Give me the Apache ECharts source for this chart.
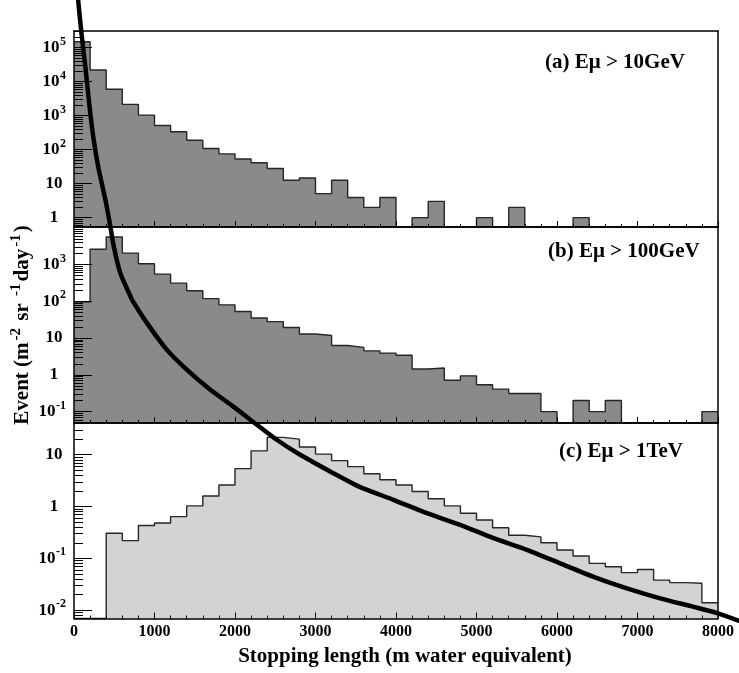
<!DOCTYPE html>
<html>
<head>
<meta charset="utf-8">
<title>Stopping length of muons</title>
<script src="https://cdn.jsdelivr.net/npm/echarts@6/dist/echarts.min.js"></script>
<style>
  html, body { margin: 0; padding: 0; background: #ffffff; }
  #chart { width: 739px; height: 673px; }
</style>
</head>
<body>
<div id="chart"></div>
<script>
// Histogram bins: left edge of every 200 m.w.e. bin, plus the closing edge
const binStart = [0, 200, 400, 600, 800, 1000, 1200, 1400, 1600, 1800,
                  2000, 2200, 2400, 2600, 2800, 3000, 3200, 3400, 3600, 3800,
                  4000, 4200, 4400, 4600, 4800, 5000, 5200, 5400, 5600, 5800,
                  6000, 6200, 6400, 6600, 6800, 7000, 7200, 7400, 7600, 7800];
const binEnd = 8000;

// (a) E_mu > 10 GeV
const eventsA = [150000, 22000, 6000, 2150, 1040, 516, 335, 190, 108, 75,
                 53, 41, 28, 12.6, 14.7, 5.1, 12.6, 3.9, 2, 3.9,
                 0, 1, 3, 0, 0, 1, 0, 2, 0, 0,
                 0, 1, 0, 0, 0, 0, 0, 0, 0, 0];
// (b) E_mu > 100 GeV
const eventsB = [95, 2600, 5600, 2050, 1050, 550, 312, 194, 118, 80,
                 53, 35, 28, 19.4, 12.9, 11.8, 6.3, 5.6, 4.5, 3.9,
                 3.4, 1.44, 1.53, 0.71, 0.94, 0.54, 0.41, 0.31, 0.31, 0.10,
                 0, 0.20, 0.10, 0.20, 0, 0, 0, 0, 0, 0.10];
// (c) E_mu > 1 TeV
const eventsC = [0, 0, 0.305, 0.22, 0.43, 0.48, 0.64, 1.03, 1.6, 2.6,
                 5.4, 11.9, 21.6, 20, 14.1, 10.3, 7.7, 5.9, 4.3, 3.3,
                 2.6, 1.95, 1.41, 1.03, 0.74, 0.55, 0.39, 0.28, 0.26, 0.20,
                 0.145, 0.111, 0.080, 0.069, 0.053, 0.061, 0.038, 0.034, 0.033, 0.0139];

// Expected stopping-length spectrum (drawn in the frame of panel c)
const curveLength = [50, 58, 91, 140, 183, 232, 298, 389, 451, 493,
                     575, 680, 721, 903, 1152, 1401, 1690, 1980, 2187, 2519,
                     2809, 3222, 3554, 3968, 4383, 4797, 5211, 5626, 6040, 6454,
                     6869, 7282, 7696, 8000, 8264];
const curveFlux = [6.3e9, 4.7e9, 1.45e9, 3.2e8, 7.4e7, 1.66e7, 3.8e6, 8.5e5, 2.6e5, 1.07e5,
                   3.2e4, 1.35e4, 9800, 3550, 1070, 440, 182, 85, 48, 19.5,
                   10, 4.4, 2.37, 1.35, 0.745, 0.443, 0.245, 0.146, 0.080, 0.044,
                   0.0264, 0.0169, 0.0116, 0.0087, 0.0062];

// Axis ranges and labelled decades
const xRange = [0, 8000];
const xCurveRange = [0, 8400];   // the curve runs on past the last bin
const xTickStep = 1000;
const yRangeA = [0.53, 3.1e5];
const yRangeB = [0.049, 1.05e4];
const yRangeC = [0.0069, 41];
const yMajorA = [1, 10, 100, 1000, 10000, 100000];
const yMajorB = [0.1, 1, 10, 100, 1000];
const yMajorC = [0.01, 0.1, 1, 10];

const panelLabels = ['(a) E\u03bc > 10GeV', '(b) E\u03bc > 100GeV', '(c) E\u03bc > 1TeV'];
const xTitle = 'Stopping length (m water equivalent)';

const FONT = '"Liberation Serif", "DejaVu Serif", serif';
const fills = ['#8a8a8a', '#8a8a8a', '#d3d3d3'];

// Panel geometry (pixels)
const left = 74, width = 644;
const panels = [
  { top: 31, height: 196, range: yRangeA, major: yMajorA, events: eventsA },
  { top: 227, height: 196, range: yRangeB, major: yMajorB, events: eventsB },
  { top: 423, height: 195.5, range: yRangeC, major: yMajorC, events: eventsC }
];

function stepData(events, floor) {
  const pts = binStart.map((x, i) => [x, events[i] > 0 ? events[i] : floor]);
  pts.push([binEnd, pts[pts.length - 1][1]]);
  return pts;
}

// 2..9 x 10^k ticks inside the axis range
function minorTicks(range) {
  const out = [];
  const k0 = Math.floor(Math.log10(range[0]));
  const k1 = Math.ceil(Math.log10(range[1]));
  for (let k = k0; k <= k1; k++) {
    for (let m = 2; m <= 9; m++) {
      const v = m * Math.pow(10, k);
      if (v > range[0] && v < range[1]) out.push(v);
    }
  }
  return out;
}

function logLabel(v) {
  const e = Math.round(Math.log10(v));
  if (e === 0) return '{b|1}{p|}';
  if (e === 1) return '{b|10}{p|}';
  return '{b|10}{s|' + e + '}';
}

const labelRich = {
  b: { fontFamily: FONT, fontWeight: 'bold', fontSize: 17, color: '#000', width: 18, align: 'center', lineHeight: 24 },
  s: { fontFamily: FONT, fontWeight: 'bold', fontSize: 12, color: '#000', verticalAlign: 'top', lineHeight: 10 },
  p: { width: 3, lineHeight: 10 }
};

const grids = [], xAxes = [], yAxes = [], series = [];
const frameLine = { show: true, lineStyle: { color: '#000', width: 1.5 } };

panels.forEach((p, i) => {
  grids.push({ left: left, width: width, top: p.top, height: p.height, outerBoundsMode: 'none', containLabel: false });
  const isLast = i === panels.length - 1;
  // bottom x axis with ticks
  xAxes.push({
    type: 'value', gridIndex: i, position: 'bottom', min: xRange[0], max: xRange[1], interval: xTickStep,
    z: 3,
    axisLine: frameLine,
    axisTick: { show: true, inside: true, length: 6, lineStyle: { color: '#000', width: 1 } },
    minorTick: { show: true, splitNumber: 5, length: 3, lineStyle: { color: '#000', width: 1 } },
    splitLine: { show: false },
    axisLabel: { show: isLast, margin: 5, formatter: v => String(v), fontFamily: FONT, fontWeight: 'bold', fontSize: 16, color: '#000' }
  });
  // log y axis with decade ticks and labels
  yAxes.push({
    type: 'log', logBase: 10, gridIndex: i, position: 'left', min: p.range[0], max: p.range[1],
    z: 3,
    axisLine: frameLine,
    splitLine: { show: false },
    axisTick: { show: true, inside: true, length: 18, customValues: p.major, lineStyle: { color: '#000', width: 1 } },
    axisLabel: { show: true, margin: 8, customValues: p.major, formatter: logLabel, rich: labelRich, align: 'right' }
  });
});

panels.forEach((p, i) => {
  // top frame edge
  xAxes.push({
    type: 'value', gridIndex: i, position: 'top', min: 0, max: 1, z: 3,
    axisLine: frameLine, axisTick: { show: false }, axisLabel: { show: false }, splitLine: { show: false }
  });
  // short ticks at 2..9 of every decade
  yAxes.push({
    type: 'log', logBase: 10, gridIndex: i, position: 'left', min: p.range[0], max: p.range[1], z: 3,
    axisLine: { show: false }, splitLine: { show: false }, axisLabel: { show: false },
    axisTick: { show: true, inside: true, length: 9, customValues: minorTicks(p.range), lineStyle: { color: '#000', width: 1 } }
  });
});

panels.forEach((p, i) => {
  // right frame edge
  yAxes.push({
    type: 'value', gridIndex: i, position: 'right', min: 0, max: 1, z: 3,
    axisLine: frameLine, axisTick: { show: false }, axisLabel: { show: false }, splitLine: { show: false }
  });
});

// Curve frame: same scales as panel c, x extended past 8000 at the same pixel density
grids.push({
  left: left, width: width * xCurveRange[1] / xRange[1], top: panels[2].top, height: panels[2].height,
  outerBoundsMode: 'none', containLabel: false
});
xAxes.push({ type: 'value', gridIndex: 3, min: xCurveRange[0], max: xCurveRange[1], show: false });
yAxes.push({ type: 'log', logBase: 10, gridIndex: 3, min: yRangeC[0], max: yRangeC[1], show: false });

panels.forEach((p, i) => {
  series.push({
    type: 'line', xAxisIndex: i, yAxisIndex: i,
    data: stepData(p.events, p.range[0]),
    step: 'end', symbol: 'none', clip: true, z: 2,
    lineStyle: { color: '#262626', width: 1.4 },
    areaStyle: { color: fills[i], opacity: 1 },
    emphasis: { disabled: true }
  });
});

series.push({
  type: 'line', xAxisIndex: 6, yAxisIndex: 9,
  data: curveLength.map((x, i) => [x, curveFlux[i]]),
  symbol: 'none', clip: false, z: 10,
  smooth: 0.2,
  lineStyle: { color: '#000', width: 4.5, join: 'round', cap: 'round' },
  emphasis: { disabled: true }
});

const labelPos = [[545, 63], [548, 252], [559, 452]];
const graphic = panelLabels.map((t, i) => ({
  type: 'text', x: labelPos[i][0], y: labelPos[i][1], z: 20,
  style: { text: t, fontFamily: FONT, fontWeight: 'bold', fontSize: 21, fill: '#000', align: 'left', verticalAlign: 'middle' }
}));

graphic.push({
  type: 'text', x: 405, y: 657, z: 20,
  style: { text: xTitle, fontFamily: FONT, fontWeight: 'bold', fontSize: 21, fill: '#000', align: 'center', verticalAlign: 'middle' }
});

graphic.push({
  type: 'text', x: 23, y: 325, rotation: Math.PI / 2, z: 20,
  style: {
    text: '{t|Event (m}{s|-2}{t| sr }{s|-1}{t|day}{s|-1}{t|)}',
    align: 'center', verticalAlign: 'middle',
    rich: {
      t: { fontFamily: FONT, fontWeight: 'bold', fontSize: 21, fill: '#000', color: '#000', lineHeight: 28 },
      s: { fontFamily: FONT, fontWeight: 'bold', fontSize: 15, fill: '#000', color: '#000', verticalAlign: 'top', lineHeight: 14, padding: [0, 2, 0, 2] }
    }
  }
});

const chart = echarts.init(document.getElementById('chart'), null, { renderer: 'canvas' });
chart.setOption({
  animation: false,
  backgroundColor: '#ffffff',
  grid: grids,
  xAxis: xAxes,
  yAxis: yAxes,
  series: series,
  graphic: graphic
});
</script>
</body>
</html>
